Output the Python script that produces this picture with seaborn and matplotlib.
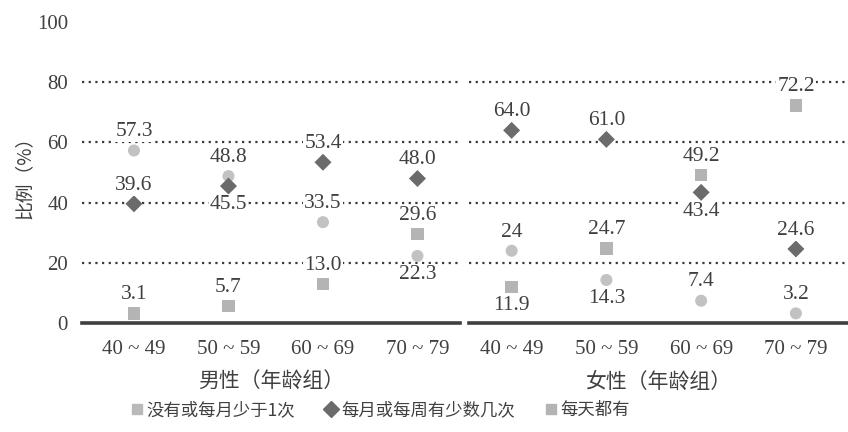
import matplotlib
matplotlib.use("Agg")
import matplotlib.pyplot as plt
from matplotlib.lines import Line2D
import seaborn as sns
import pandas as pd

sns.set_theme(style="white")
plt.rcParams['font.family'] = ['Liberation Serif', 'Noto Sans CJK SC', 'DejaVu Sans']

ages = ["40 ~ 49", "50 ~ 59", "60 ~ 69", "70 ~ 79"]
series_names = ["没有或每月少于1次", "每月或每周有少数几次", "每天都有"]
panel_titles = ["男性（年龄组）", "女性（年龄组）"]

male_rare = [57.3, 48.8, 33.5, 22.3]
male_some = [39.6, 45.5, 53.4, 48.0]
male_daily = [3.1, 5.7, 13.0, 29.6]
female_rare = [24, 14.3, 7.4, 3.2]
female_some = [64.0, 61.0, 43.4, 24.6]
female_daily = [11.9, 24.7, 49.2, 72.2]

# label placement: +1 above the marker, -1 below
male_pos = {"rare": [1, 1, 1, -1], "some": [1, -1, 1, 1], "daily": [1, 1, 1, 1]}
female_pos = {"rare": [1, -1, 1, 1], "some": [1, 1, -1, 1], "daily": [-1, 1, 1, 1]}

styles = {
    "rare": dict(marker="o", color="#c2c2c2", s=75),
    "some": dict(marker="D", color="#6b6b6b", s=75),
    "daily": dict(marker="s", color="#b4b4b4", s=80),
}

W, H = 848, 432
fig = plt.figure(figsize=(W / 100, H / 100), dpi=100)
fig.patch.set_facecolor("white")

panels = [
    (panel_titles[0], {"rare": male_rare, "some": male_some, "daily": male_daily}, male_pos,
     (82, 460), (-0.55, 3.45)),
    (panel_titles[1], {"rare": female_rare, "some": female_some, "daily": female_daily}, female_pos,
     (469, 848), (-0.45, 3.55)),
]

y0, y1 = 323, 22
txt_color = "#404040"
num_font = dict(family=['Liberation Serif', 'Noto Sans CJK SC'], size=15.5, color=txt_color)

for i, (title, vals, pos, (px0, px1), xl) in enumerate(panels):
    ax = fig.add_axes([px0 / W, (H - y0) / H, (px1 - px0) / W, (y0 - y1) / H])
    ax.set_facecolor("none")
    for key in ["rare", "some", "daily"]:
        df = pd.DataFrame({"age": ages, "value": vals[key]})
        st = styles[key]
        sns.scatterplot(data=df, x="age", y="value", marker=st["marker"], color=st["color"],
                        s=st["s"], edgecolor="none", linewidth=0, ax=ax, zorder=3, legend=False)
        for j, v in enumerate(vals[key]):
            p = pos[key][j]
            txt = f"{v:g}" if isinstance(v, int) else f"{v:.1f}"
            ax.annotate(txt, (j, v), xytext=(0, 13.5 * p), textcoords="offset points",
                        ha="center", va="center", zorder=4,
                        bbox=dict(boxstyle="square,pad=0.05", fc="white", ec="none"),
                        **num_font)
    ax.set_xlim(*xl)
    ax.set_ylim(0, 100)
    for g in [20, 40, 60, 80]:
        ax.axhline(g, color="#3a3a3a", lw=1.6, ls=(0, (1, 2)), zorder=1)
    for s in ["top", "right", "left"]:
        ax.spines[s].set_visible(False)
    ax.spines["bottom"].set_color("#3f3f3f")
    ax.spines["bottom"].set_linewidth(2.6)
    ax.tick_params(axis="x", length=0, pad=12, labelsize=15, labelcolor=txt_color)
    ax.set_xlabel(title, fontsize=15, color=txt_color, labelpad=9,
                  family=['Noto Sans CJK SC', 'Liberation Serif'])
    ax.set_yticks([0, 20, 40, 60, 80, 100])
    if i == 0:
        ax.tick_params(axis="y", length=0, pad=10, labelsize=15, labelcolor=txt_color)
        ax.set_ylabel("比例（%）", fontsize=13.5, color=txt_color, labelpad=2,
                      family=['Noto Sans CJK SC', 'DejaVu Sans'])
    else:
        ax.tick_params(axis="y", length=0, labelleft=False)
        ax.set_ylabel("")
    ax.grid(False)

handles = [
    Line2D([], [], ls="none", marker="s", color="#b9b9b9", markersize=7),
    Line2D([], [], ls="none", marker="D", color="#6b6b6b", markersize=8),
    Line2D([], [], ls="none", marker="s", color="#b4b4b4", markersize=7),
]
leg = fig.legend(handles, series_names, loc="center", bbox_to_anchor=(0.447, 0.05), ncol=3,
                 frameon=False, handletextpad=0.05, columnspacing=1.6, handlelength=1.0,
                 prop=dict(family=['Noto Sans CJK SC', 'DejaVu Sans'], size=12.5))
for t in leg.get_texts():
    t.set_color(txt_color)

fig.savefig("out.png", dpi=100, facecolor="white")
